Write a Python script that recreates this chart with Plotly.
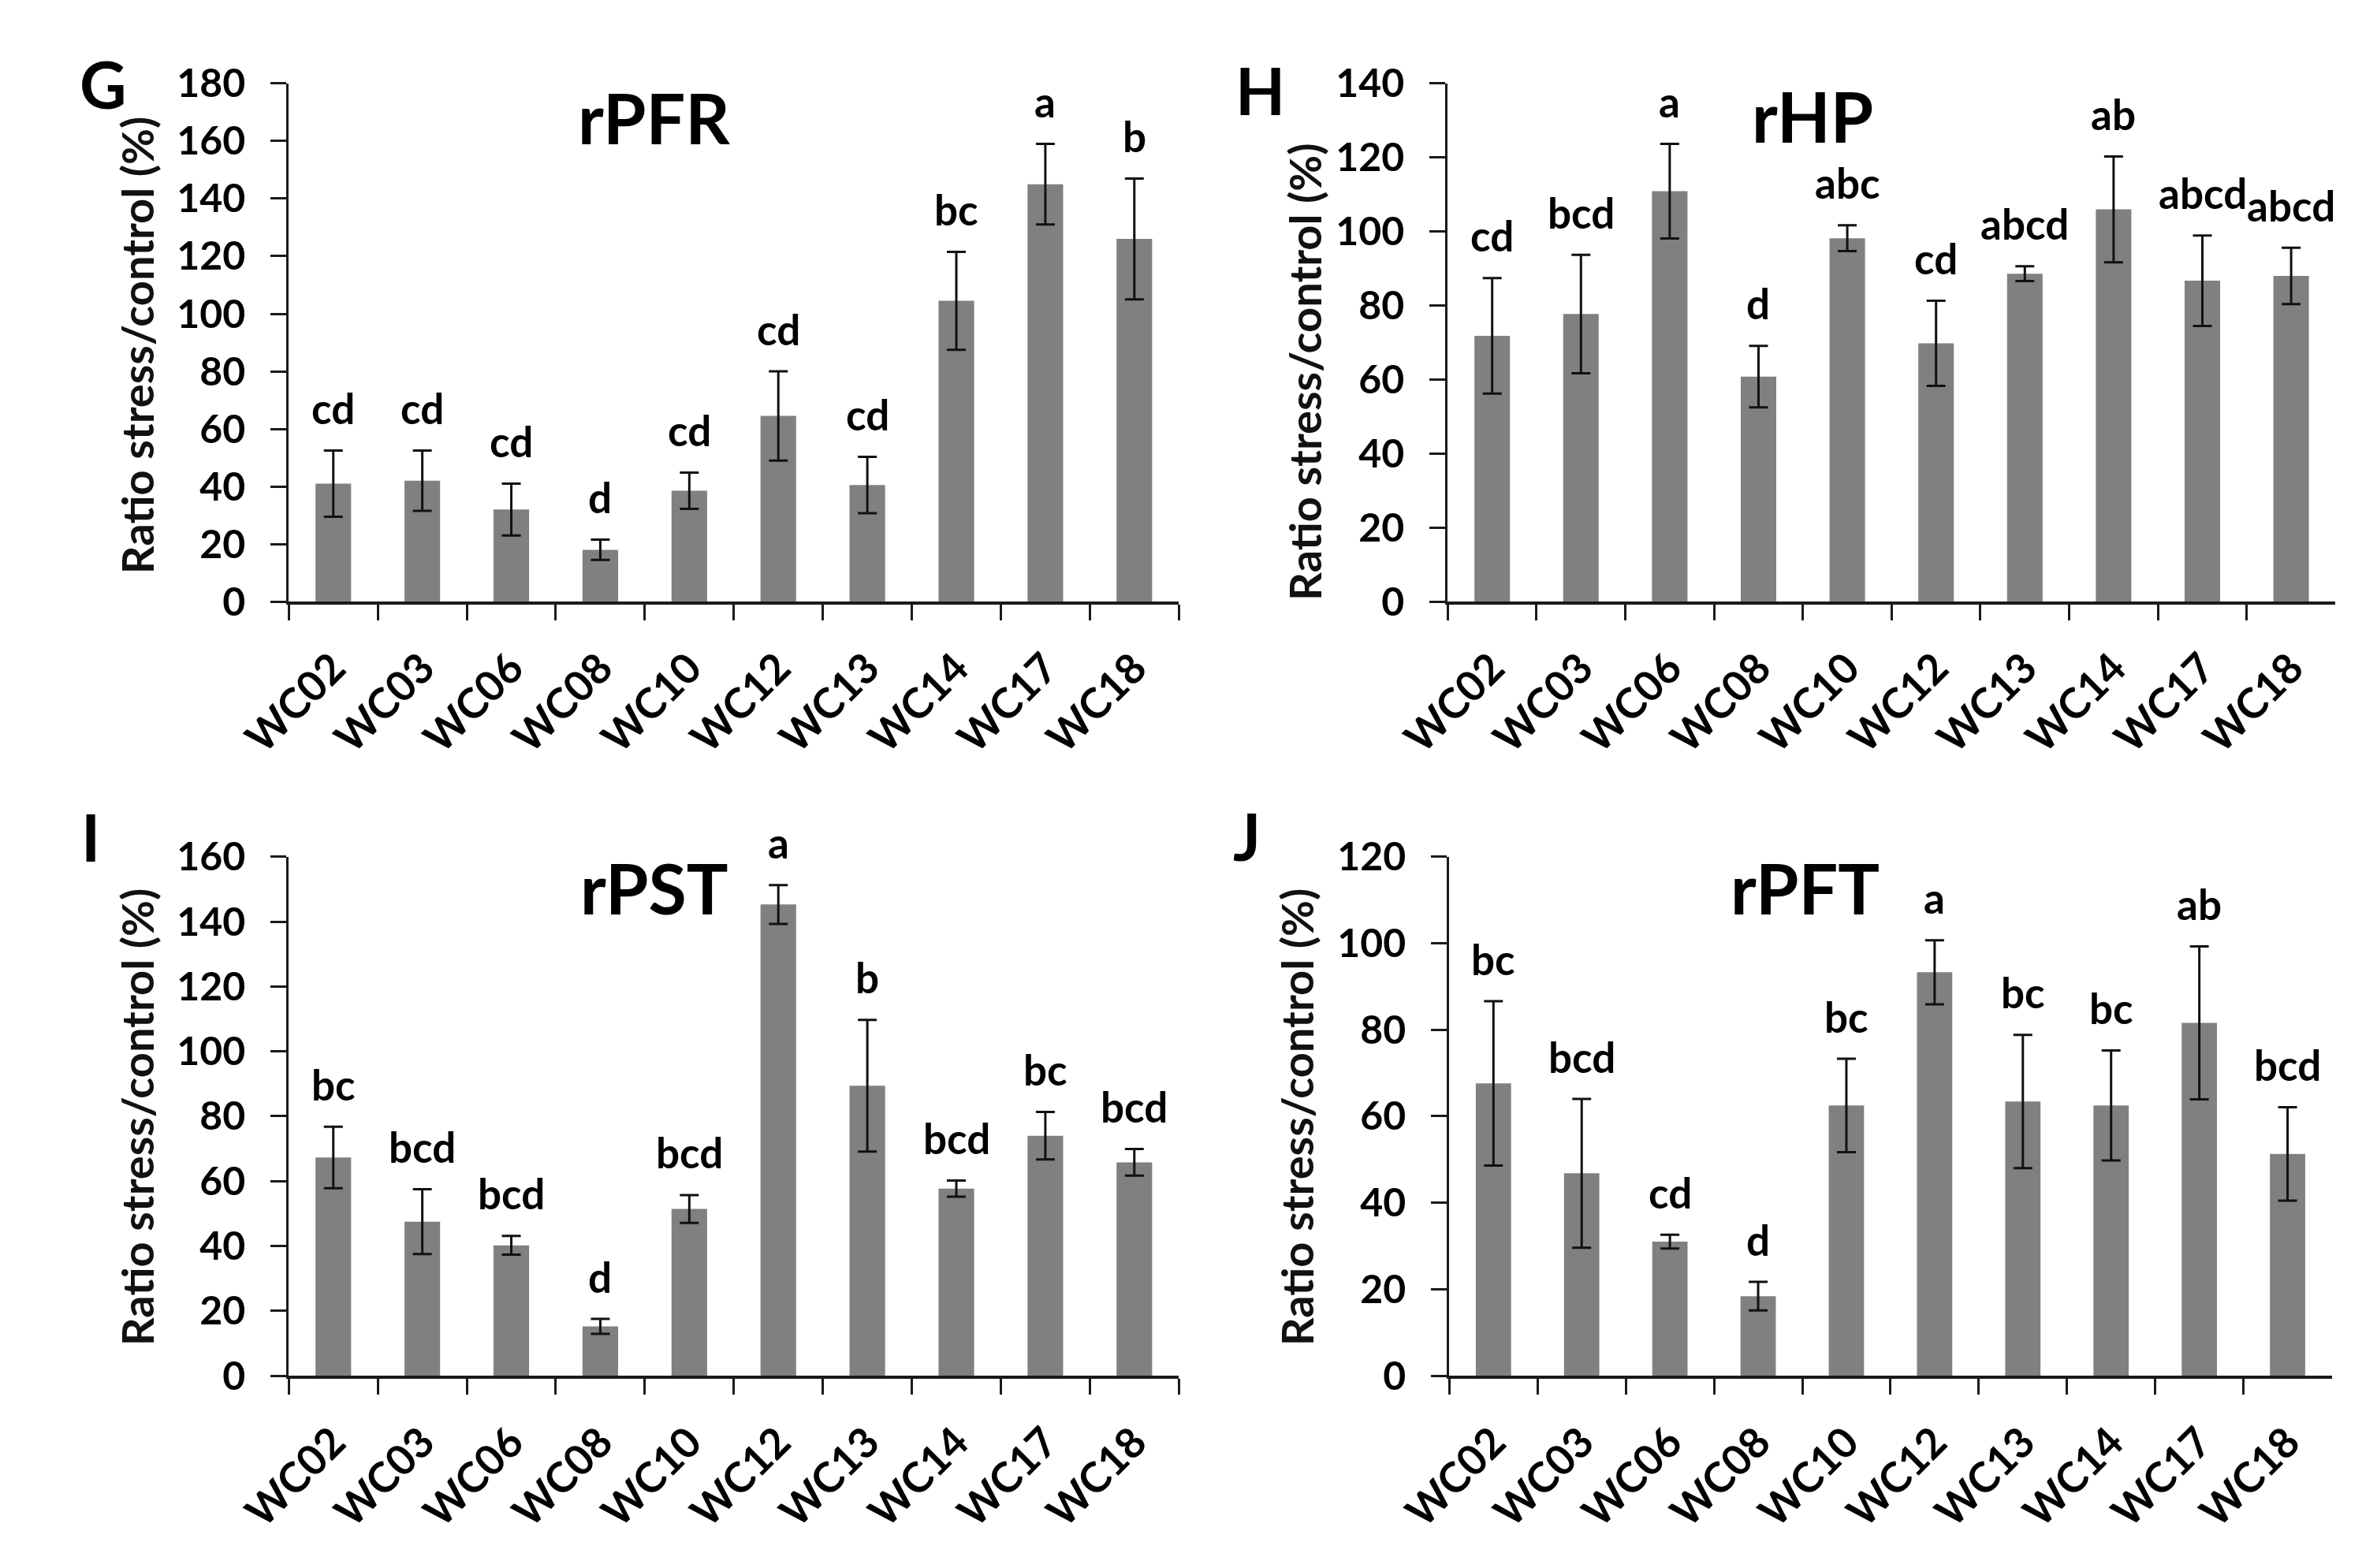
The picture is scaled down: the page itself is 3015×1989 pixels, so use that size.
import plotly.graph_objects as go

categories = ["WC02", "WC03", "WC06", "WC08", "WC10", "WC12", "WC13", "WC14", "WC17", "WC18"]

rpfr_values = [41, 42, 32, 18, 38.5, 64.5, 40.5, 104.5, 145, 126]
rpfr_errors = [11.5, 10.5, 9, 3.5, 6.3, 15.5, 9.8, 17, 14, 21]
rpfr_letters = ["cd", "cd", "cd", "d", "cd", "cd", "cd", "bc", "a", "b"]

rhp_values = [71.8, 77.7, 110.9, 60.8, 98.2, 69.8, 88.6, 106, 86.7, 88]
rhp_errors = [15.6, 16, 12.8, 8.3, 3.5, 11.5, 2, 14.3, 12.2, 7.6]
rhp_letters = ["cd", "bcd", "a", "d", "abc", "cd", "abcd", "ab", "abcd", "abcd"]

rpst_values = [67.3, 47.5, 40.2, 15.2, 51.4, 145.3, 89.4, 57.7, 74, 65.8]
rpst_errors = [9.5, 10, 2.9, 2.3, 4.3, 6, 20.3, 2.5, 7.3, 4.1]
rpst_letters = ["bc", "bcd", "bcd", "d", "bcd", "a", "b", "bcd", "bc", "bcd"]

rpft_values = [67.6, 46.8, 31, 18.4, 62.5, 93.3, 63.4, 62.5, 81.6, 51.3]
rpft_errors = [19, 17.2, 1.6, 3.3, 10.8, 7.4, 15.4, 12.7, 17.7, 10.8]
rpft_letters = ["bc", "bcd", "cd", "d", "bc", "a", "bc", "bc", "ab", "bcd"]

panel_titles = ["rPFR", "rHP", "rPST", "rPFT"]
panel_letters = ["G", "H", "I", "J"]
y_maxes = [180, 140, 160, 120]
y_title = "Ratio stress/control (%)"

W, H = 3015, 1989
FONT = "Lato"
AX = "#1a1a1a"
BAR = "#808080"

def px(x):
    return x / W

def py(y):
    return 1 - y / H

# plot-area geometry in pixels (left, right, top, bottom)
boxes = [
    (297, 1452, 68, 746),
    (1801, 2953, 68, 746),
    (297, 1452, 1080, 1759),
    (1803, 2948, 1080, 1759),
]
title_pos = [(771, 112), (2274, 110), (771, 1120), (2265, 1120)]
letter_pos = [(56, 68), (1558, 76), (40, 1053), (1540, 1052)]
ytitle_pos = [(100, 410), (1615, 445), (100, 1420), (1605, 1420)]

series = [
    (rpfr_values, rpfr_errors, rpfr_letters),
    (rhp_values, rhp_errors, rhp_letters),
    (rpst_values, rpst_errors, rpst_letters),
    (rpft_values, rpft_errors, rpft_letters),
]

fig = go.Figure()
annotations = []
layout_axes = {}

for i, ((vals, errs, lets), box) in enumerate(zip(series, boxes)):
    n = "" if i == 0 else str(i + 1)
    xa, ya = "x" + n, "y" + n
    fig.add_trace(go.Bar(
        x=categories, y=vals, xaxis=xa, yaxis=ya,
        marker=dict(color=BAR, line=dict(width=0)),
        width=0.4,
        error_y=dict(type="data", array=errs, visible=True,
                     color="#111111", thickness=3, width=12),
        showlegend=False,
    ))
    l, r, t, b = box
    layout_axes["xaxis" + n] = dict(
        domain=[px(l), px(r)], anchor=ya, type="category",
        range=[-0.5, len(categories) - 0.5],
        tickson="boundaries", ticks="outside", ticklen=20, tickwidth=3,
        tickcolor=AX, showline=True, linecolor=AX, linewidth=4,
        showgrid=False, zeroline=False, tickangle=-45,
        ticklabelstandoff=28,
        tickfont=dict(family=FONT, size=53, color="black", weight="bold"),
    )
    layout_axes["yaxis" + n] = dict(
        domain=[py(b), py(t)], anchor=xa, range=[0, y_maxes[i]],
        dtick=20, tick0=0, ticks="outside", ticklen=20, tickwidth=3,
        tickcolor=AX, showline=True, linecolor=AX, linewidth=3,
        showgrid=False, zeroline=False, ticklabelstandoff=22,
        tickfont=dict(family=FONT, size=50, color="black", weight="bold"),
    )
    for c, v, e, s in zip(categories, vals, errs, lets):
        annotations.append(dict(
            x=c, y=v + e, xref=xa, yref=ya, text=s, showarrow=False,
            yanchor="middle", yshift=54,
            font=dict(family=FONT, size=53, color="black", weight="bold"),
        ))
    tx, ty = title_pos[i]
    annotations.append(dict(
        x=px(tx), y=py(ty), xref="paper", yref="paper", text=panel_titles[i],
        showarrow=False, xanchor="center", yanchor="middle",
        font=dict(family=FONT, size=88, color="black", weight="bold"),
    ))
    lx, ly = letter_pos[i]
    annotations.append(dict(
        x=px(lx), y=py(ly), xref="paper", yref="paper", text=panel_letters[i],
        showarrow=False, xanchor="center", yanchor="middle",
        font=dict(family=FONT, size=82, color="black", weight="bold"),
    ))
    yx, yy = ytitle_pos[i]
    annotations.append(dict(
        x=px(yx), y=py(yy), xref="paper", yref="paper", text=y_title,
        showarrow=False, xanchor="center", yanchor="middle", textangle=-90,
        font=dict(family=FONT, size=56, color="#111111", weight="bold"),
    ))

fig.update_layout(
    width=W, height=H,
    margin=dict(l=0, r=0, t=0, b=0),
    paper_bgcolor="white", plot_bgcolor="white",
    annotations=annotations,
    bargap=0.6,
    **layout_axes,
)

fig.write_html("out.html")
